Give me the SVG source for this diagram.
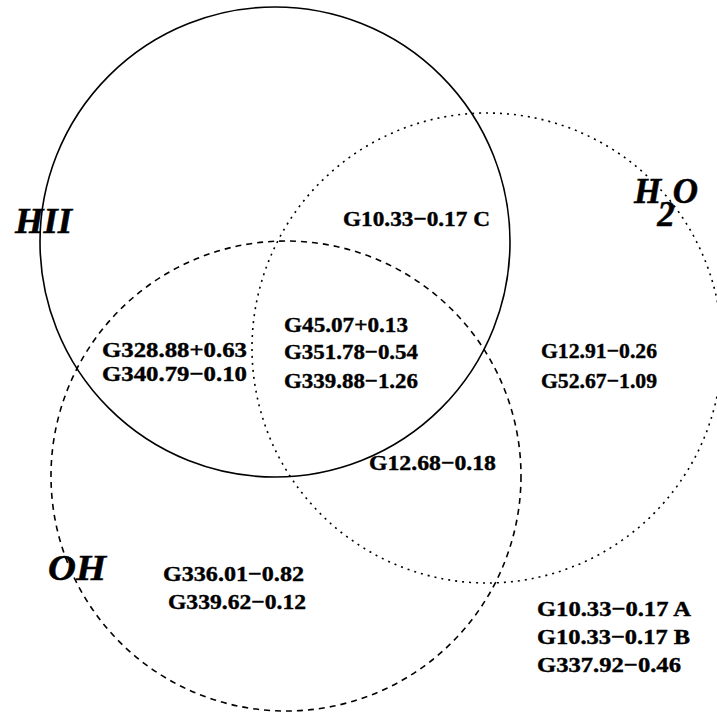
<svg xmlns="http://www.w3.org/2000/svg" width="717" height="712" viewBox="0 0 717 712">
  <style>
    .ring { fill: none; stroke: #000; stroke-width: 1.6; }
    .dash { stroke-dasharray: 6 5; }
    .dot { stroke-dasharray: 2 5; }
    .src { font-family: "Liberation Serif", "Times New Roman", serif; font-weight: bold; font-size: 22px; fill: #000; stroke: #000; stroke-width: 0.4; }
    .set { font-family: "Liberation Serif", "Times New Roman", serif; font-weight: bold; font-style: italic; font-size: 35px; fill: #000; stroke: #000; stroke-width: 0.5; }
  </style>
  <rect width="717" height="712" fill="#fff"/>

  <!-- set outlines -->
  <g id="connectors">
    <circle id="ring-hii" class="ring" cx="275" cy="242" r="235"/>
    <circle id="ring-h2o" class="ring dot" cx="487" cy="348" r="235"/>
    <circle id="ring-oh" class="ring dash" cx="286" cy="476" r="235"/>
  </g>

  <!-- set names -->
  <g id="label-hii"><text class="set" x="15" y="233" textLength="57" lengthAdjust="spacingAndGlyphs">HII</text></g>
  <g id="label-h2o">
    <text class="set" x="634" y="203">H<tspan dx="-4" dy="23">2</tspan><tspan dx="-2" dy="-23">O</tspan></text>
  </g>
  <g id="label-oh"><text class="set" x="48" y="580" textLength="58" lengthAdjust="spacingAndGlyphs">OH</text></g>

  <!-- HII and H2O only -->
  <g id="node-hii-h2o">
    <text class="src" x="343" y="226" textLength="147" lengthAdjust="spacingAndGlyphs">G10.33−0.17 C</text>
  </g>

  <!-- all three -->
  <g id="node-all">
    <text class="src" x="284" y="332" textLength="124" lengthAdjust="spacingAndGlyphs">G45.07+0.13</text>
    <text class="src" x="284" y="359" textLength="134" lengthAdjust="spacingAndGlyphs">G351.78−0.54</text>
    <text class="src" x="284" y="388" textLength="134" lengthAdjust="spacingAndGlyphs">G339.88−1.26</text>
  </g>

  <!-- HII and OH only -->
  <g id="node-hii-oh">
    <text class="src" x="102" y="357" textLength="145" lengthAdjust="spacingAndGlyphs">G328.88+0.63</text>
    <text class="src" x="102" y="381" textLength="145" lengthAdjust="spacingAndGlyphs">G340.79−0.10</text>
  </g>

  <!-- H2O only -->
  <g id="node-h2o">
    <text class="src" x="541" y="358" textLength="116" lengthAdjust="spacingAndGlyphs">G12.91−0.26</text>
    <text class="src" x="541" y="388" textLength="116" lengthAdjust="spacingAndGlyphs">G52.67−1.09</text>
  </g>

  <!-- H2O and OH only -->
  <g id="node-h2o-oh">
    <text class="src" x="369" y="470" textLength="127" lengthAdjust="spacingAndGlyphs">G12.68−0.18</text>
  </g>

  <!-- OH only -->
  <g id="node-oh">
    <text class="src" x="163" y="581" textLength="141" lengthAdjust="spacingAndGlyphs">G336.01−0.82</text>
    <text class="src" x="168" y="609" textLength="138" lengthAdjust="spacingAndGlyphs">G339.62−0.12</text>
  </g>

  <!-- none -->
  <g id="node-none">
    <text class="src" x="537" y="616" textLength="154" lengthAdjust="spacingAndGlyphs">G10.33−0.17 A</text>
    <text class="src" x="537" y="644" textLength="153" lengthAdjust="spacingAndGlyphs">G10.33−0.17 B</text>
    <text class="src" x="537" y="672" textLength="144" lengthAdjust="spacingAndGlyphs">G337.92−0.46</text>
  </g>
</svg>
